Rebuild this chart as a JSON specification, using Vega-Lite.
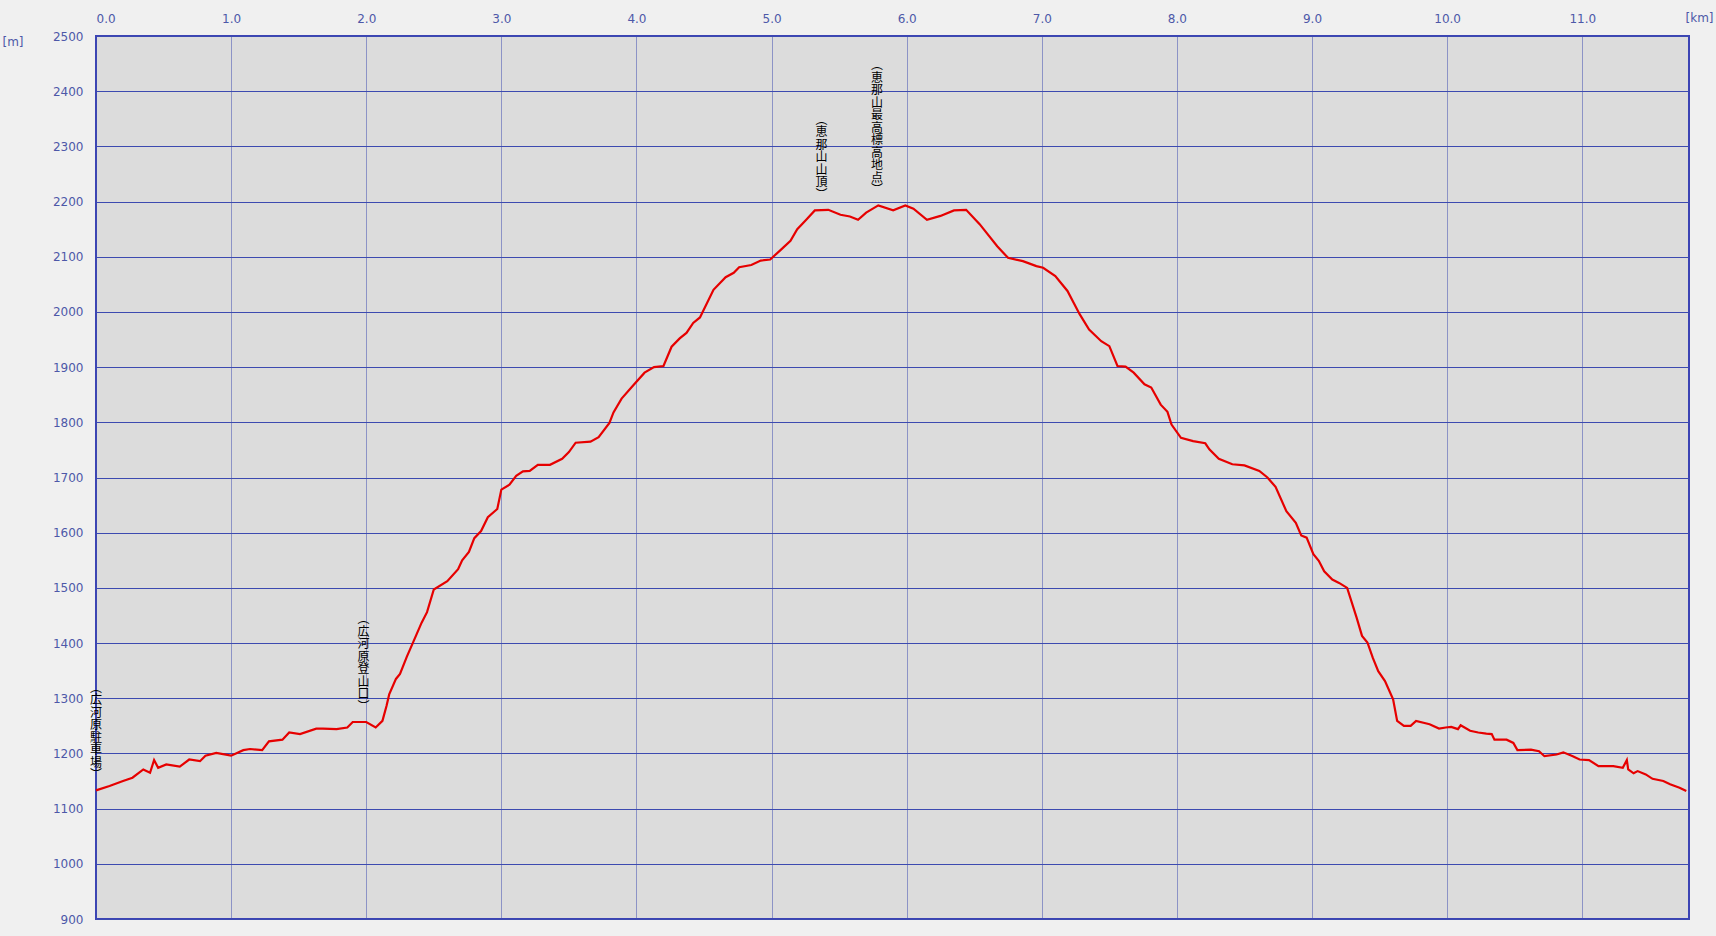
{
  "$schema": "https://vega.github.io/schema/vega-lite/v6.json",
  "width": 1593,
  "height": 883,
  "autosize": {"type": "none"},
  "padding": {"left": 96, "top": 36, "right": 27, "bottom": 17},
  "background": "#f0f0f0",
  "config": {
    "view": {"fill": "#dcdcdc", "stroke": "#3c44b4", "strokeWidth": 2},
    "axis": {"labelOverlap": false, "labelBound": false, "titleFontWeight": "normal"}
  },
  "datasets": {
    "profile": [
      {"km": 0.00, "elev": 1133}, {"km": 0.10, "elev": 1141}, {"km": 0.20, "elev": 1150}, {"km": 0.27, "elev": 1156},
      {"km": 0.35, "elev": 1171}, {"km": 0.40, "elev": 1165}, {"km": 0.43, "elev": 1188}, {"km": 0.46, "elev": 1174},
      {"km": 0.52, "elev": 1180}, {"km": 0.62, "elev": 1176}, {"km": 0.69, "elev": 1189}, {"km": 0.77, "elev": 1186},
      {"km": 0.81, "elev": 1196}, {"km": 0.89, "elev": 1201}, {"km": 1.00, "elev": 1196}, {"km": 1.09, "elev": 1206},
      {"km": 1.14, "elev": 1208}, {"km": 1.23, "elev": 1206}, {"km": 1.28, "elev": 1222}, {"km": 1.38, "elev": 1225},
      {"km": 1.43, "elev": 1238}, {"km": 1.51, "elev": 1235}, {"km": 1.63, "elev": 1245}, {"km": 1.68, "elev": 1245},
      {"km": 1.78, "elev": 1244}, {"km": 1.86, "elev": 1247}, {"km": 1.90, "elev": 1257}, {"km": 2.00, "elev": 1257},
      {"km": 2.07, "elev": 1247}, {"km": 2.12, "elev": 1259}, {"km": 2.15, "elev": 1286}, {"km": 2.17, "elev": 1307},
      {"km": 2.22, "elev": 1335}, {"km": 2.25, "elev": 1344}, {"km": 2.30, "elev": 1375}, {"km": 2.35, "elev": 1403},
      {"km": 2.41, "elev": 1437}, {"km": 2.45, "elev": 1456}, {"km": 2.50, "elev": 1497}, {"km": 2.60, "elev": 1512},
      {"km": 2.68, "elev": 1534}, {"km": 2.71, "elev": 1550}, {"km": 2.76, "elev": 1565}, {"km": 2.80, "elev": 1590},
      {"km": 2.85, "elev": 1603}, {"km": 2.90, "elev": 1628}, {"km": 2.97, "elev": 1643}, {"km": 3.00, "elev": 1678},
      {"km": 3.06, "elev": 1687}, {"km": 3.11, "elev": 1703}, {"km": 3.16, "elev": 1711}, {"km": 3.21, "elev": 1712},
      {"km": 3.27, "elev": 1723}, {"km": 3.36, "elev": 1723}, {"km": 3.45, "elev": 1734}, {"km": 3.50, "elev": 1746},
      {"km": 3.55, "elev": 1763}, {"km": 3.66, "elev": 1765}, {"km": 3.72, "elev": 1773}, {"km": 3.80, "elev": 1799},
      {"km": 3.83, "elev": 1818}, {"km": 3.89, "elev": 1843}, {"km": 3.98, "elev": 1868}, {"km": 4.06, "elev": 1890},
      {"km": 4.13, "elev": 1900}, {"km": 4.20, "elev": 1902}, {"km": 4.26, "elev": 1937}, {"km": 4.32, "elev": 1952},
      {"km": 4.37, "elev": 1962}, {"km": 4.42, "elev": 1980}, {"km": 4.47, "elev": 1990}, {"km": 4.57, "elev": 2040},
      {"km": 4.66, "elev": 2063}, {"km": 4.72, "elev": 2071}, {"km": 4.76, "elev": 2081}, {"km": 4.85, "elev": 2085},
      {"km": 4.92, "elev": 2093}, {"km": 4.99, "elev": 2095}, {"km": 5.07, "elev": 2113}, {"km": 5.14, "elev": 2129},
      {"km": 5.19, "elev": 2150}, {"km": 5.26, "elev": 2168}, {"km": 5.32, "elev": 2184}, {"km": 5.42, "elev": 2185},
      {"km": 5.51, "elev": 2176}, {"km": 5.58, "elev": 2173}, {"km": 5.64, "elev": 2167}, {"km": 5.70, "elev": 2180},
      {"km": 5.79, "elev": 2193}, {"km": 5.90, "elev": 2184}, {"km": 5.99, "elev": 2193}, {"km": 6.05, "elev": 2187},
      {"km": 6.15, "elev": 2167}, {"km": 6.25, "elev": 2174}, {"km": 6.35, "elev": 2184}, {"km": 6.44, "elev": 2185},
      {"km": 6.54, "elev": 2159}, {"km": 6.67, "elev": 2119}, {"km": 6.75, "elev": 2098}, {"km": 6.86, "elev": 2092},
      {"km": 6.96, "elev": 2083}, {"km": 7.01, "elev": 2080}, {"km": 7.10, "elev": 2065}, {"km": 7.19, "elev": 2038},
      {"km": 7.28, "elev": 1996}, {"km": 7.35, "elev": 1968}, {"km": 7.44, "elev": 1947}, {"km": 7.50, "elev": 1938},
      {"km": 7.56, "elev": 1902}, {"km": 7.62, "elev": 1901}, {"km": 7.68, "elev": 1890}, {"km": 7.76, "elev": 1869},
      {"km": 7.81, "elev": 1863}, {"km": 7.88, "elev": 1832}, {"km": 7.93, "elev": 1819}, {"km": 7.96, "elev": 1796},
      {"km": 8.03, "elev": 1772}, {"km": 8.12, "elev": 1766}, {"km": 8.21, "elev": 1762}, {"km": 8.24, "elev": 1751},
      {"km": 8.31, "elev": 1734}, {"km": 8.41, "elev": 1724}, {"km": 8.50, "elev": 1722}, {"km": 8.61, "elev": 1712},
      {"km": 8.67, "elev": 1700}, {"km": 8.73, "elev": 1683}, {"km": 8.81, "elev": 1639}, {"km": 8.88, "elev": 1618},
      {"km": 8.92, "elev": 1595}, {"km": 8.96, "elev": 1591}, {"km": 9.01, "elev": 1561}, {"km": 9.05, "elev": 1549},
      {"km": 9.09, "elev": 1530}, {"km": 9.15, "elev": 1515}, {"km": 9.20, "elev": 1509}, {"km": 9.26, "elev": 1500},
      {"km": 9.33, "elev": 1446}, {"km": 9.37, "elev": 1413}, {"km": 9.41, "elev": 1401}, {"km": 9.45, "elev": 1373},
      {"km": 9.49, "elev": 1349}, {"km": 9.54, "elev": 1331}, {"km": 9.60, "elev": 1298}, {"km": 9.63, "elev": 1259},
      {"km": 9.68, "elev": 1250}, {"km": 9.73, "elev": 1250}, {"km": 9.77, "elev": 1259}, {"km": 9.87, "elev": 1253},
      {"km": 9.94, "elev": 1245}, {"km": 9.99, "elev": 1247}, {"km": 10.03, "elev": 1248}, {"km": 10.08, "elev": 1244},
      {"km": 10.10, "elev": 1251}, {"km": 10.17, "elev": 1241}, {"km": 10.23, "elev": 1238}, {"km": 10.29, "elev": 1236},
      {"km": 10.33, "elev": 1235}, {"km": 10.35, "elev": 1225}, {"km": 10.44, "elev": 1225}, {"km": 10.49, "elev": 1219},
      {"km": 10.52, "elev": 1206}, {"km": 10.62, "elev": 1207}, {"km": 10.68, "elev": 1204}, {"km": 10.72, "elev": 1195},
      {"km": 10.81, "elev": 1198}, {"km": 10.86, "elev": 1202}, {"km": 10.93, "elev": 1195}, {"km": 10.98, "elev": 1189},
      {"km": 11.05, "elev": 1188}, {"km": 11.12, "elev": 1177}, {"km": 11.23, "elev": 1177}, {"km": 11.30, "elev": 1174},
      {"km": 11.33, "elev": 1188}, {"km": 11.34, "elev": 1171}, {"km": 11.38, "elev": 1164}, {"km": 11.41, "elev": 1168},
      {"km": 11.47, "elev": 1162}, {"km": 11.52, "elev": 1154}, {"km": 11.60, "elev": 1150}, {"km": 11.65, "elev": 1144},
      {"km": 11.72, "elev": 1138}, {"km": 11.77, "elev": 1132}
    ],
    "waypoints": [
      {"km": 0.0, "elev": 1133, "name": "広河原駐車場"},
      {"km": 1.98, "elev": 1257, "name": "広河原登山口"},
      {"km": 5.37, "elev": 2185, "name": "恵那山山頂"},
      {"km": 5.78, "elev": 2193, "name": "恵那山最高標高地点"}
    ]
  },
  "encoding": {
    "x": {
      "field": "km", "type": "quantitative",
      "scale": {"domain": [0, 11.79], "nice": false, "zero": false},
      "axis": {
        "orient": "top", "values": [0, 1, 2, 3, 4, 5, 6, 7, 8, 9, 10, 11], "format": ".1f",
        "domain": false, "ticks": false, "labelPadding": 11,
        "labelColor": "#4d58a8", "labelFont": "DejaVu Sans", "labelFontSize": 12,
        "grid": true, "gridColor": "#3c4ab0", "gridDash": [1, 1], "gridWidth": 1,
        "title": "[km]", "titleColor": "#4d58a8", "titleFont": "DejaVu Sans", "titleFontSize": 12,
        "titleAngle": 0, "titleAlign": "center", "titleBaseline": "middle", "titleX": 1603, "titleY": -19
      }
    },
    "y": {
      "field": "elev", "type": "quantitative",
      "scale": {"domain": [900, 2500], "nice": false, "zero": false},
      "axis": {
        "values": [900, 1000, 1100, 1200, 1300, 1400, 1500, 1600, 1700, 1800, 1900, 2000, 2100, 2200, 2300, 2400, 2500],
        "format": "d",
        "domain": false, "ticks": false, "labelPadding": 13,
        "labelColor": "#4d58a8", "labelFont": "DejaVu Sans", "labelFontSize": 12,
        "grid": true, "gridColor": "#3c4ab0", "gridWidth": 1,
        "title": "[m]", "titleColor": "#4d58a8", "titleFont": "DejaVu Sans", "titleFontSize": 12,
        "titleAngle": 0, "titleAlign": "left", "titleBaseline": "middle", "titleX": -94, "titleY": 5
      }
    }
  },
  "layer": [
    {
      "data": {"values": [{}]},
      "mark": {"type": "rect", "fill": "#c0c0c0", "stroke": "#a0a0a0", "strokeWidth": 1},
      "encoding": {"x": {"datum": -0.0666}, "x2": {"datum": 0}, "y": {"datum": 700}, "y2": {"datum": 2513.8}}
    },
    {
      "data": {"values": [{}]},
      "mark": {"type": "rect", "fill": "#c0c0c0", "stroke": "#a0a0a0", "strokeWidth": 1},
      "encoding": {"x": {"datum": 11.79}, "x2": {"datum": 12.6}, "y": {"datum": 700}, "y2": {"datum": 2513.8}}
    },
    {
      "data": {"values": [{}]},
      "mark": {"type": "rect", "fill": "#c0c0c0", "stroke": "#a0a0a0", "strokeWidth": 1},
      "encoding": {"x": {"datum": 0}, "x2": {"datum": 11.79}, "y": {"datum": 2500}, "y2": {"datum": 2513.8}}
    },
    {
      "data": {"values": [{}]},
      "mark": {"type": "rect", "fill": "#c0c0c0"},
      "encoding": {"x": {"datum": 0}, "x2": {"datum": 11.79}, "y": {"datum": 700}, "y2": {"datum": 900}}
    },
    {
      "data": {"name": "profile"},
      "mark": {"type": "line", "color": "#e60000", "strokeWidth": 2.2},
      "encoding": {}
    },
    {
      "data": {"name": "waypoints"},
      "transform": [
        {"calculate": "join(reverse(split('︵' + datum.name + '︶', '')), '\\n')", "as": "vlabel"}
      ],
      "mark": {
        "type": "text", "align": "center", "baseline": "bottom", "dy": -8,
        "font": "Noto Sans CJK JP", "fontSize": 12, "lineHeight": -12.5, "lineBreak": "\n", "color": "#000000"
      },
      "encoding": {"text": {"field": "vlabel", "type": "nominal"}}
    }
  ]
}
